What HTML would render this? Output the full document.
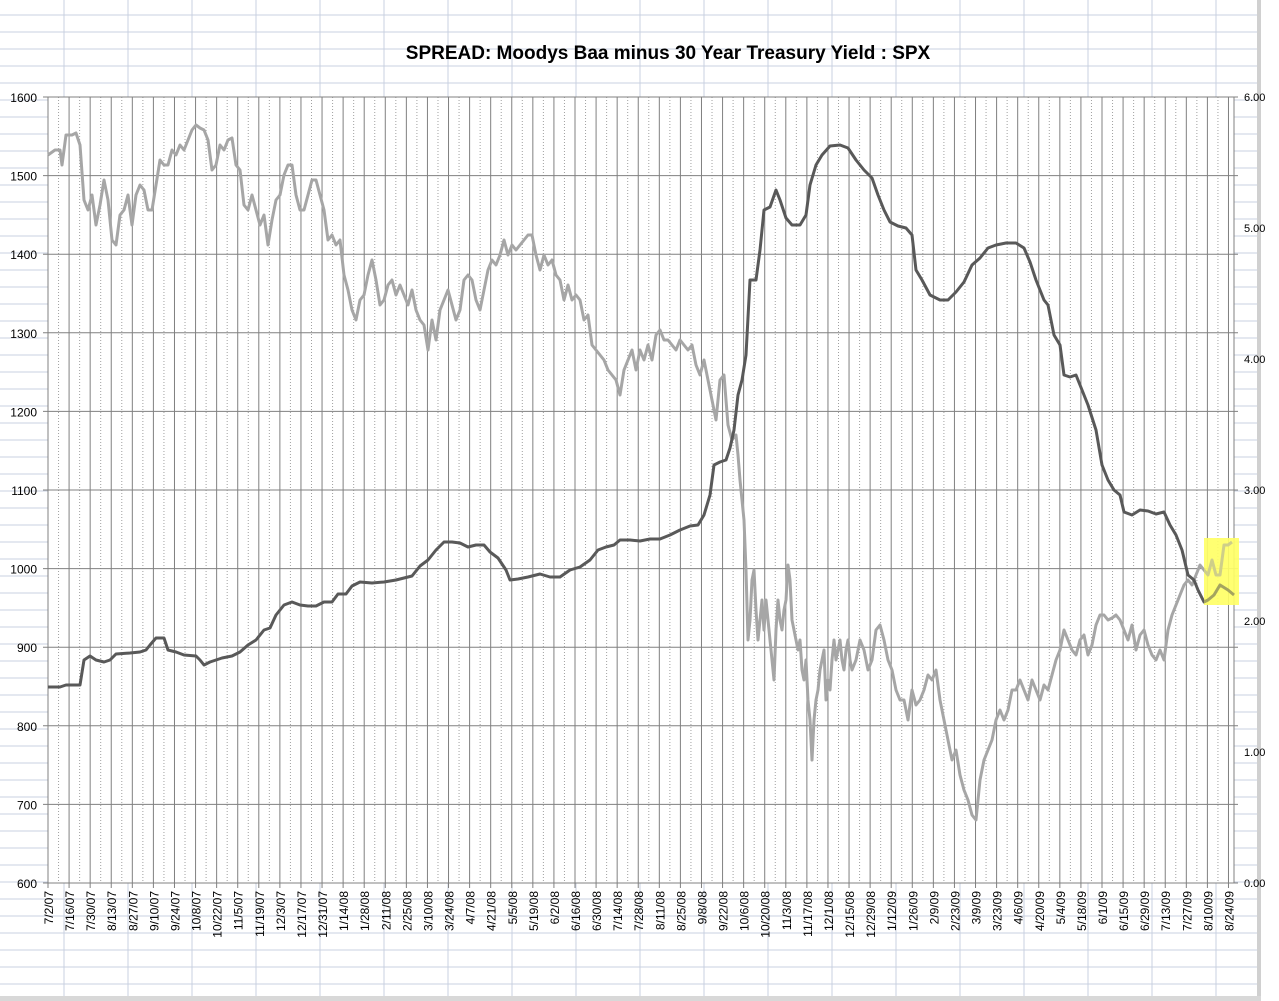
<!DOCTYPE html>
<html><head><meta charset="utf-8"><style>
html,body{margin:0;padding:0;background:#fff;}
svg{display:block;font-family:"Liberation Sans",sans-serif;}
</style></head><body>
<svg id="s" width="1279" height="1001" xmlns="http://www.w3.org/2000/svg">
<g id="bg"></g>
<rect x="48" y="97" width="1186" height="786" fill="#fff"/>
<g id="grid"></g>
<text x="668" y="59" text-anchor="middle" font-size="19" font-weight="bold" fill="#000">SPREAD: Moodys Baa minus 30 Year Treasury Yield : SPX</text>
<rect x="1204" y="538" width="35" height="67" fill="#ffff66" opacity="0.85"/>
<polyline id="l1" fill="none" stroke="#a6a6a6" stroke-width="3" stroke-linejoin="round"/>
<polyline id="l2" fill="none" stroke="#595959" stroke-width="3" stroke-linejoin="round"/>
<rect x="1204" y="538" width="35" height="67" fill="#ffff66" opacity="0.45"/>
<g id="lab"></g>
</svg>
<script>
var NS="http://www.w3.org/2000/svg";
function el(p,t,a,txt){var e=document.createElementNS(NS,t);for(var k in a)e.setAttribute(k,a[k]);if(txt!=null)e.textContent=txt;p.appendChild(e);return e;}
var bg=document.getElementById('bg'),g=document.getElementById('grid'),lab=document.getElementById('lab');
for(var x=64;x<1260;x+=64)el(bg,'line',{x1:x,y1:0,x2:x,y2:1001,stroke:'#c8d0e0','stroke-width':1});
for(var y=865%17;y<1001;y+=17)el(bg,'line',{x1:0,y1:y,x2:1260,y2:y,stroke:'#c8d0e0','stroke-width':1});
el(bg,'rect',{x:1257,y:0,width:4,height:1001,fill:'#d0d0d0'});
el(bg,'rect',{x:0,y:996,width:1261,height:5,fill:'#d8d8d8'});
var L=48,R=1234,T=97,B=883,W=10.54;
for(var w=0;w<=112;w++){var xx=L+w*W;
 if(w%2==0){el(g,'line',{x1:xx,y1:T,x2:xx,y2:B+5,stroke:'#808080','stroke-width':1});}
 else el(g,'line',{x1:xx,y1:T,x2:xx,y2:B,stroke:'#a0a0a0','stroke-width':1,'stroke-dasharray':'1,2'});}
for(var i=0;i<=10;i++){var yy=T+i*(B-T)/10;
 el(g,'line',{x1:L-5,y1:yy,x2:R+4,y2:yy,stroke:'#808080','stroke-width':1});
 el(lab,'text',{x:37,y:yy+5,'text-anchor':'end','font-size':12,fill:'#000'},String(1600-i*100));}
for(var i=0;i<=6;i++){var yy=B-i*(B-T)/6;
 el(lab,'text',{x:1244,y:yy+4,'font-size':11,fill:'#000'},i.toFixed(2));}
el(g,'line',{x1:L,y1:T,x2:L,y2:B,stroke:'#808080'});
el(g,'line',{x1:R,y1:T,x2:R,y2:B,stroke:'#808080'});
var d0=new Date(2007,6,2);
for(var w=0;w<=112;w+=2){var d=new Date(d0.getTime()+w*7*86400000+3600000);
 var s=(d.getMonth()+1)+'/'+d.getDate()+'/'+String(d.getFullYear()).slice(2);
 var xx=L+w*W+5;
 el(lab,'text',{x:0,y:0,'font-size':12,fill:'#000','text-anchor':'end',transform:'translate('+xx+',891) rotate(-90)'},s);}
var a=[48,155,55,150,60,150,62,165,66,135,72,135,76,133,80,145,84,200,88,210,92,195,96,225,100,205,104,180,108,200,112,240,116,245,120,215,124,210,128,195,132,225,136,195,140,185,144,190,148,210,152,210,156,185,160,160,164,165,168,165,172,150,176,155,180,145,184,150,188,140,192,130,196,125,200,128,204,130,208,140,212,170,216,165,220,145,224,150,228,140,232,138,236,165,240,170,244,205,248,210,252,195,256,210,260,225,264,215,268,245,272,220,276,200,280,195,284,175,288,165,292,165,296,195,300,210,304,210,308,195,312,180,316,180,320,195,324,210,328,240,332,235,336,245,340,240,344,275,348,290,352,310,356,320,360,300,364,295,368,275,372,260,376,280,380,305,384,300,388,285,392,280,396,295,400,285,404,295,408,305,412,290,416,310,420,320,424,325,428,350,432,320,436,340,440,310,444,300,448,290,452,305,456,320,460,310,464,280,468,275,472,280,476,300,480,310,484,290,488,270,492,260,496,265,500,255,504,240,508,255,512,245,516,250,520,245,524,240,528,235,532,235,536,255,540,270,544,255,548,265,552,260,556,275,560,280,564,300,568,285,572,300,576,295,580,300,584,320,588,315,592,345,596,350,600,355,604,360,608,370,612,375,616,380,620,395,624,370,628,360,632,350,636,370,640,350,644,360,648,345,652,360,656,335,660,330,664,340,668,340,672,345,676,350,680,340,684,345,688,350,692,345,696,365,700,375,704,360,708,380,712,400,716,420,720,380,724,375,728,425,732,440,736,435,738,455,740,480,744,520,746,570,748,640,750,620,752,580,754,570,756,610,758,640,760,620,762,600,764,630,766,600,768,620,770,640,772,660,774,680,776,630,778,600,780,620,782,630,784,610,786,600,788,565,790,580,792,620,794,630,796,640,798,650,800,640,802,670,804,680,806,660,808,700,810,720,812,760,814,720,816,700,818,690,820,670,822,660,824,650,826,700,828,680,830,690,832,660,834,640,836,660,838,650,840,640,842,660,844,670,846,650,848,640,850,660,852,670,856,660,860,640,864,650,868,670,872,660,876,630,880,625,884,640,888,660,892,670,896,690,900,700,904,700,908,720,912,690,916,705,920,700,924,690,928,675,932,680,936,670,940,700,944,720,948,740,952,760,956,750,960,775,964,790,968,800,972,815,976,820,980,780,984,760,988,750,992,740,996,720,1000,710,1004,720,1008,710,1012,690,1016,690,1020,680,1024,690,1028,700,1032,680,1036,690,1040,700,1044,685,1048,690,1052,675,1056,660,1060,650,1064,630,1068,640,1072,650,1076,655,1080,640,1084,635,1088,655,1092,645,1096,625,1100,615,1104,615,1108,620,1112,618,1116,615,1120,620,1124,630,1128,640,1132,625,1136,650,1140,635,1144,630,1148,645,1152,655,1156,660,1160,650,1164,660,1168,630,1172,615,1176,605,1180,595,1184,585,1188,580,1192,585,1196,575,1200,565,1204,570,1208,575,1212,560,1216,575,1220,575,1224,545,1228,545,1232,542];
var b=[48,687,60,687,66,685,80,685,84,660,90,656,96,660,104,662,110,660,116,654,130,653,140,652,146,650,150,645,156,638,164,638,168,650,176,652,184,655,196,656,200,660,204,665,210,662,222,658,232,656,240,652,248,645,256,640,264,630,270,628,276,615,284,605,292,602,300,605,308,606,316,606,324,602,332,602,338,594,346,594,352,586,360,582,372,583,384,582,396,580,404,578,412,576,420,566,428,560,436,550,444,542,452,542,460,543,468,547,476,545,484,545,490,552,498,558,506,570,510,580,518,579,528,577,540,574,550,577,560,577,570,570,580,567,590,560,598,550,606,547,614,545,620,540,630,540,640,541,650,539,660,539,670,535,680,530,690,526,698,525,704,515,710,495,714,465,720,462,726,460,730,448,734,430,738,395,742,380,746,355,750,280,756,280,760,250,764,210,770,207,776,190,780,200,786,218,792,225,800,225,806,215,810,185,816,165,822,155,830,146,840,145,848,148,856,160,864,170,872,178,878,195,884,210,890,222,898,226,906,228,912,235,916,270,922,280,930,295,940,300,948,300,956,292,964,282,972,265,980,258,988,248,996,245,1006,243,1016,243,1024,248,1030,262,1036,280,1044,300,1048,305,1054,335,1060,345,1064,375,1070,377,1076,375,1080,385,1088,405,1096,430,1102,465,1108,480,1114,490,1120,495,1124,512,1132,515,1140,510,1148,511,1156,514,1164,512,1170,525,1176,535,1182,550,1188,575,1194,580,1198,590,1204,602,1208,600,1214,595,1220,585,1228,590,1234,595];
function pts(a){var s='';for(var i=0;i<a.length;i+=2)s+=a[i]+','+a[i+1]+' ';return s;}
document.getElementById('l1').setAttribute('points',pts(a));
document.getElementById('l2').setAttribute('points',pts(b));
</script>
</body></html>
